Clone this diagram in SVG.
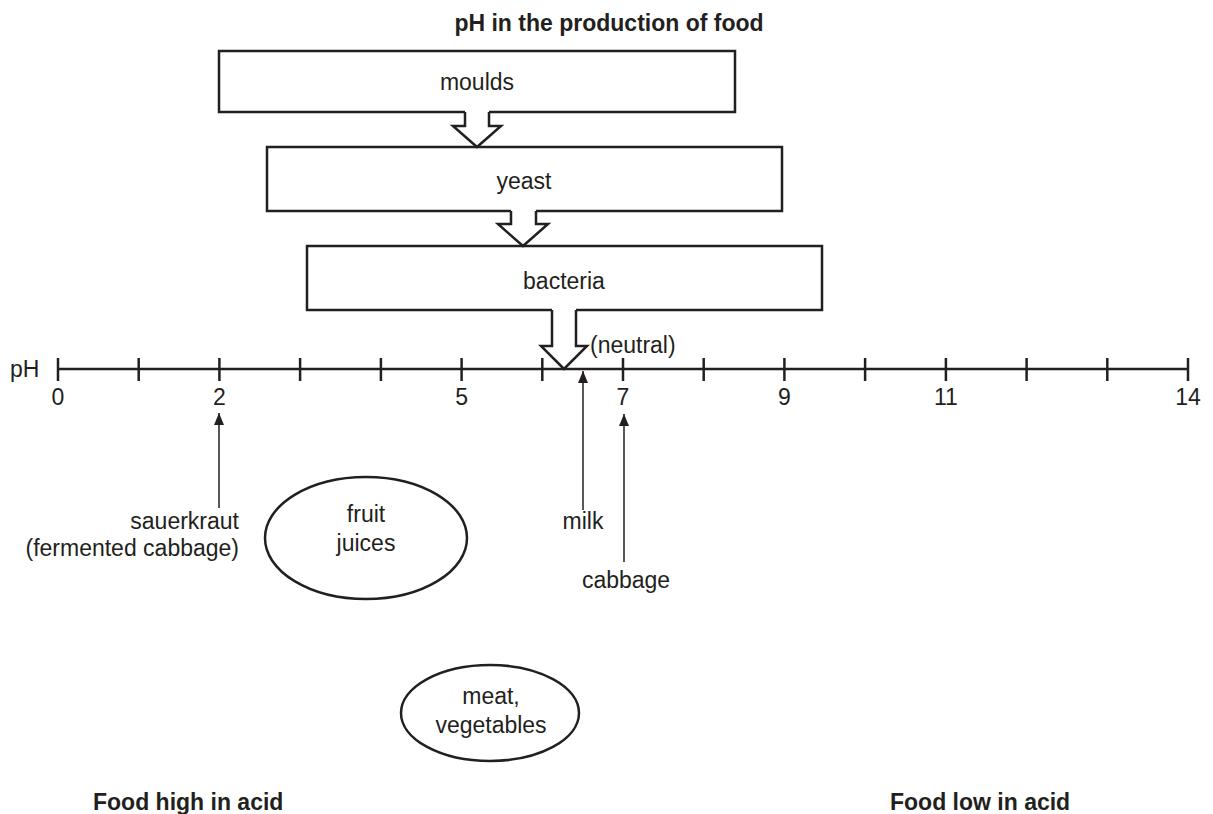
<svg xmlns="http://www.w3.org/2000/svg" width="1213" height="814" viewBox="0 0 1213 814">
<style>
text{font-family:"Liberation Sans",Arial,sans-serif;font-size:23px;fill:#231f20}
.b{font-weight:bold}
.m{text-anchor:middle}
.e{text-anchor:end}
.box{fill:#fff;stroke:#231f20;stroke-width:2.5}
.big{fill:#fff;stroke:#231f20;stroke-width:2.5;stroke-linejoin:miter}
.fillw{fill:#fff;stroke:none}
.axis{stroke:#231f20;stroke-width:2.5;fill:none}
.thin{stroke:#231f20;stroke-width:1.5;fill:none}
</style>
<defs>
<marker id="ah" viewBox="0 0 12 10" refX="12" refY="5" markerWidth="12" markerHeight="10" markerUnits="userSpaceOnUse" orient="auto">
<path d="M0,0 L12,5 L0,10 Z" fill="#231f20"/>
</marker>
</defs>
<text class="b m" x="609" y="31">pH in the production of food</text>
<g id="moulds">
<rect class="box" x="219" y="51" width="516" height="61"/>
<text class="m" x="477" y="90">moulds</text>
</g>
<g id="yeast">
<rect class="box" x="267" y="147" width="515" height="64"/>
<text class="m" x="524" y="189">yeast</text>
</g>
<g id="bacteria">
<rect class="box" x="307" y="246" width="515" height="64"/>
<text class="m" x="564" y="289">bacteria</text>
</g>
<g id="scale">
<line class="axis" x1="58" y1="369" x2="1188" y2="369"/>
<g class="axis">
<line x1="58" y1="358" x2="58" y2="381"/>
<line x1="138.7" y1="358" x2="138.7" y2="381"/>
<line x1="219.4" y1="358" x2="219.4" y2="381"/>
<line x1="300.1" y1="358" x2="300.1" y2="381"/>
<line x1="380.9" y1="358" x2="380.9" y2="381"/>
<line x1="461.6" y1="358" x2="461.6" y2="381"/>
<line x1="542.3" y1="358" x2="542.3" y2="381"/>
<line x1="623" y1="358" x2="623" y2="381"/>
<line x1="703.7" y1="358" x2="703.7" y2="381"/>
<line x1="784.4" y1="358" x2="784.4" y2="381"/>
<line x1="865.1" y1="358" x2="865.1" y2="381"/>
<line x1="945.9" y1="358" x2="945.9" y2="381"/>
<line x1="1026.6" y1="358" x2="1026.6" y2="381"/>
<line x1="1107.3" y1="358" x2="1107.3" y2="381"/>
<line x1="1188" y1="358" x2="1188" y2="381"/>
</g>
<text x="10" y="377">pH</text>
<text class="m" x="58" y="405">0</text>
<text class="m" x="219.4" y="405">2</text>
<text class="m" x="461.6" y="405">5</text>
<text class="m" x="623" y="405">7</text>
<text class="m" x="784.4" y="405">9</text>
<text class="m" x="945.9" y="405">11</text>
<text class="m" x="1188" y="405">14</text>
<text x="590" y="353">(neutral)</text>
</g>
<g id="connectors">
<polygon class="fillw" points="465,110 465,126 453,126 477,147 501,126 489,126 489,110"/>
<polyline class="big" points="465,112 465,126 453,126 477,147 501,126 489,126 489,112"/>
<polygon class="fillw" points="511,209 511,224 498,224 523,246 548,224 536,224 536,209"/>
<polyline class="big" points="511,211 511,224 498,224 523,246 548,224 536,224 536,211"/>
<polygon class="fillw" points="552,308 552,346 541,346 564,369 587,346 576,346 576,308"/>
<polyline class="big" points="552,310 552,346 541,346 564,369 587,346 576,346 576,310"/>
<line class="thin" x1="219" y1="508" x2="219" y2="413" marker-end="url(#ah)"/>
<line class="thin" x1="583" y1="510" x2="583" y2="371" marker-end="url(#ah)"/>
<line class="thin" x1="624" y1="562" x2="624" y2="414" marker-end="url(#ah)"/>
</g>
<g id="sauerkraut">
<text class="e" x="239" y="529">sauerkraut</text>
<text class="e" x="239" y="556">(fermented cabbage)</text>
</g>
<g id="fruit-juices">
<ellipse class="box" cx="366" cy="538" rx="101" ry="61"/>
<text class="m" x="366" y="522">fruit</text>
<text class="m" x="366" y="551">juices</text>
</g>
<g id="milk">
<text class="m" x="583" y="529">milk</text>
</g>
<g id="cabbage">
<text class="m" x="626" y="588">cabbage</text>
</g>
<g id="meat-vegetables">
<ellipse class="box" cx="490" cy="713" rx="89" ry="48"/>
<text class="m" x="491" y="704">meat,</text>
<text class="m" x="491" y="733">vegetables</text>
</g>
<text class="b" x="93" y="810">Food high in acid</text>
<text class="b" x="890" y="810">Food low in acid</text>
</svg>
